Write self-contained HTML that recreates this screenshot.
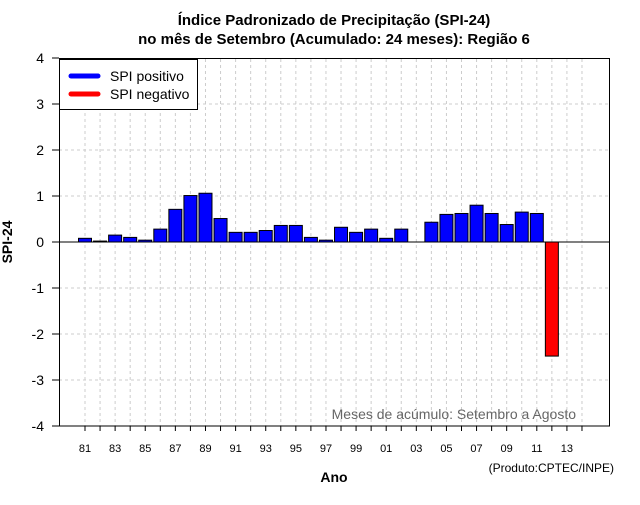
<!DOCTYPE html>
<html><head><meta charset="utf-8"><style>
body{margin:0;background:#fff;}
svg text{font-family:"Liberation Sans",sans-serif;}
</style></head><body>
<svg width="640" height="500" viewBox="0 0 640 500" xmlns="http://www.w3.org/2000/svg">
<rect width="640" height="500" fill="#fff"/>
<text x="334" y="25" text-anchor="middle" font-size="15" font-weight="bold">Índice Padronizado de Precipitação (SPI-24)</text>
<text x="334" y="44" text-anchor="middle" font-size="15" font-weight="bold">no mês de Setembro (Acumulado: 24 meses): Região 6</text>
<g id="grid"></g>
<g id="bars"></g>
<g id="axes"></g>
<line x1="59" y1="242" x2="609" y2="242" stroke="#000" stroke-width="1"/>
<rect x="59.5" y="58.5" width="550" height="367.5" fill="none" stroke="#000"/>
<g>
<rect x="59.5" y="59.5" width="138" height="50" fill="#fff" stroke="#000"/>
<line x1="71" y1="76" x2="98" y2="76" stroke="#0000ff" stroke-width="5" stroke-linecap="round"/>
<text x="110" y="81" font-size="14">SPI positivo</text>
<line x1="71" y1="94" x2="98" y2="94" stroke="#ff0000" stroke-width="5" stroke-linecap="round"/>
<text x="110" y="99" font-size="14">SPI negativo</text>
</g>
<text x="576" y="419" text-anchor="end" font-size="14" fill="#666">Meses de acúmulo: Setembro a Agosto</text>
<text x="334" y="482" text-anchor="middle" font-size="14" font-weight="bold">Ano</text>
<text x="12" y="242" text-anchor="middle" font-size="14" font-weight="bold" transform="rotate(-90 12 242)">SPI-24</text>
<text x="614" y="472" text-anchor="end" font-size="12">(Produto:CPTEC/INPE)</text>
</svg>
<script>
const years=[1981,1982,1983,1984,1985,1986,1987,1988,1989,1990,1991,1992,1993,1994,1995,1996,1997,1998,1999,2000,2001,2002,2003,2004,2005,2006,2007,2008,2009,2010,2011,2012];
const spiValues=[0.08,0.02,0.15,0.10,0.04,0.28,0.71,1.01,1.06,0.51,0.21,0.21,0.25,0.36,0.36,0.10,0.04,0.32,0.21,0.28,0.08,0.28,0,0.43,0.60,0.62,0.80,0.62,0.38,0.65,0.62,-2.48];
const yTicks=[-4,-3,-2,-1,0,1,2,3,4];
const xTickYears=[1981,1982,1983,1984,1985,1986,1987,1988,1989,1990,1991,1992,1993,1994,1995,1996,1997,1998,1999,2000,2001,2002,2003,2004,2005,2006,2007,2008,2009,2010,2011,2012,2013,2014];
const NS='http://www.w3.org/2000/svg';
const xs=y=>85+(y-1981)*15.06;
const ys=v=>242-v*46;
const grid=document.getElementById('grid'),bars=document.getElementById('bars'),axes=document.getElementById('axes');
function mk(tag,attrs,parent){const e=document.createElementNS(NS,tag);for(const k in attrs)e.setAttribute(k,attrs[k]);parent.appendChild(e);return e;}
xTickYears.forEach(y=>{
 const g=mk('line',{x1:xs(y),x2:xs(y),y1:59,y2:426,stroke:'#ccc','stroke-dasharray':'3,3'},grid);
 
 
 const t=mk('line',{x1:xs(y),x2:xs(y),y1:426,y2:431,stroke:'#000'},axes);
 
 
 if((y-1981)%2===0){
  const l=mk('text',{x:xs(y),y:452,'text-anchor':'middle','font-size':'11'},axes);
  l.textContent=String(y%100).padStart(2,'0');
  
  
 }
});
yTicks.forEach(v=>{
 if(v!==0&&v!==4&&v!==-4){
  const g=mk('line',{x1:59,x2:609,y1:ys(v),y2:ys(v),stroke:'#ccc','stroke-dasharray':'3,3'},grid);
  
  
 }
 const t=mk('line',{x1:52,x2:59,y1:ys(v),y2:ys(v),stroke:'#000'},axes);
 
 
 const l=mk('text',{x:44,y:ys(v)+5,'text-anchor':'end','font-size':'14'},axes);
 l.textContent=String(v);
 
 
});
years.forEach((y,i)=>{
 const v=spiValues[i];
 if(v===0)return;
 const top=Math.min(ys(v),ys(0)),h=Math.abs(ys(v)-ys(0));
 const r=mk('rect',{x:xs(y)-6.5,y:top,width:13,height:h,fill:v>=0?'#0000ff':'#ff0000',stroke:'#000','stroke-width':'1'},bars);
 
 
});
</script>
</body></html>
